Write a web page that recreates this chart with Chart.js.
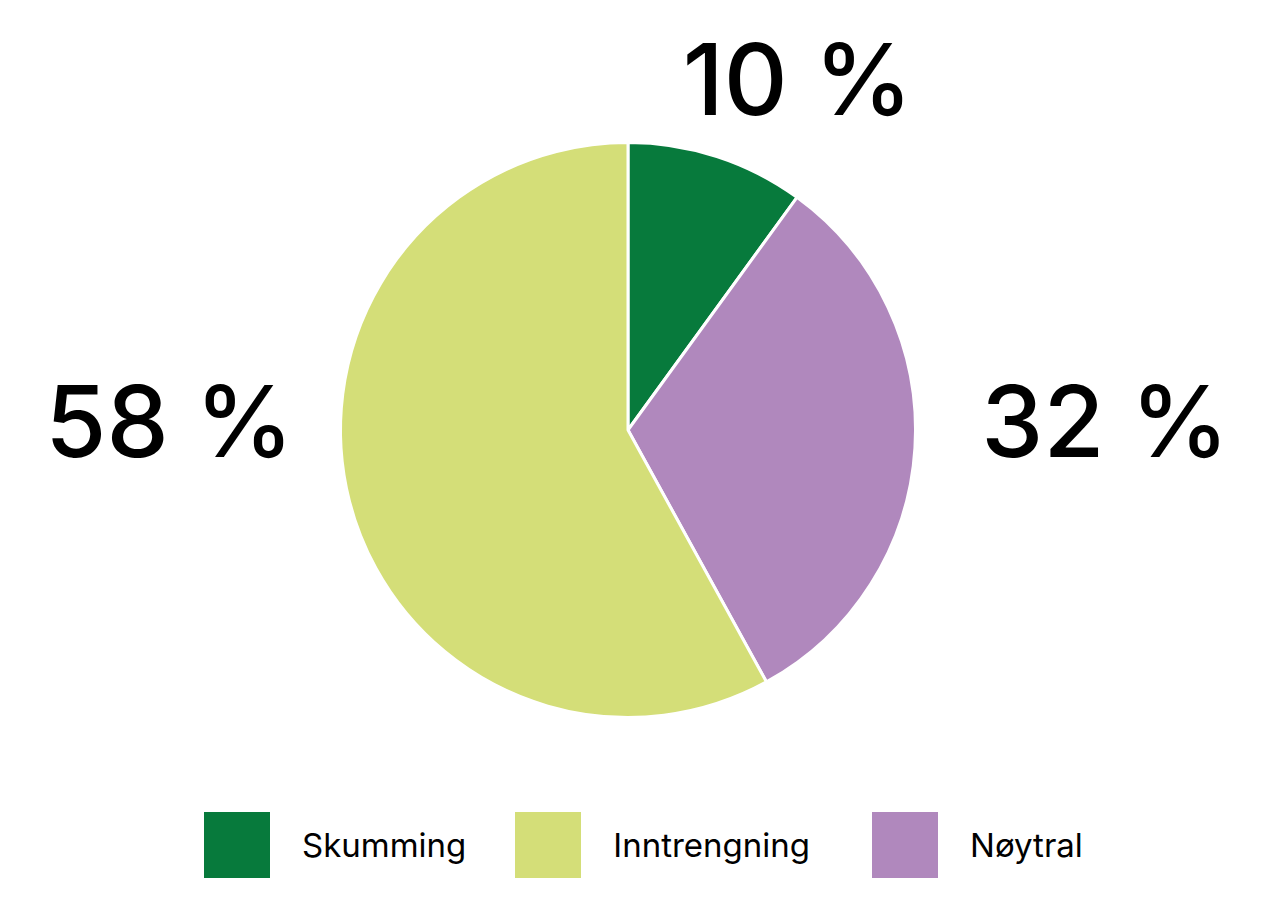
<!DOCTYPE html>
<html>
<head>
<meta charset="utf-8">
<script src="https://cdn.jsdelivr.net/npm/chart.js@4.4.0/dist/chart.umd.min.js"></script>
<style>
  html, body { margin: 0; padding: 0; background: #fff; }
  #wrap { position: relative; width: 1276px; height: 780px; }
  #legend { display: flex; justify-content: flex-start; margin-left: 204px; margin-top: 32px; font-family: Inter, sans-serif; font-size: 33px; color: #000; }
  .item { display: flex; align-items: center; margin-right: 49px; }
  .item:nth-child(2) { margin-right: 62px; }
  .box { width: 66px; height: 66px; margin-right: 32px; }
</style>
</head>
<body>
<div id="wrap"><canvas id="pieChart"></canvas></div>
<div id="legend"></div>
<script>
// Data for the chart (drawing order clockwise from top)
const categories = ["Skumming", "Nøytral", "Inntrengning"];
const shares = [10, 32, 58];
const colors = ["#077a3c", "#b088bd", "#d4de78"];
// Legend order as in the original
const legendOrder = ["Skumming", "Inntrengning", "Nøytral"];

// Where each percentage label sits, relative to pie centre, in radii
const labelOffsets = [[0.59, -1.2], [1.66, -0.01], [-1.595, -0.01]];

const percentLabels = {
  id: 'percentLabels',
  afterDatasetsDraw(chart) {
    const ctx = chart.ctx;
    const arcs = chart.getDatasetMeta(0).data;
    ctx.save();
    ctx.font = '500 99px Inter, sans-serif';
    ctx.fillStyle = '#000';
    ctx.textAlign = 'center';
    ctx.textBaseline = 'middle';
    arcs.forEach((arc, i) => {
      const r = arc.outerRadius;
      const x = arc.x + labelOffsets[i][0] * r;
      const y = arc.y + labelOffsets[i][1] * r;
      ctx.fillText(shares[i] + ' %', x, y);
    });
    ctx.restore();
  }
};

const config = {
  type: 'pie',
  data: {
    labels: categories,
    datasets: [{
      data: shares,
      backgroundColor: colors,
      borderColor: '#ffffff',
      borderWidth: 3
    }]
  },
  options: {
    responsive: true,
    maintainAspectRatio: false,
    animation: false,
    layout: { padding: { top: 141, bottom: 61, left: 0, right: 20 } },
    plugins: {
      legend: { display: false },
      tooltip: { enabled: false }
    }
  },
  plugins: [percentLabels]
};

const pieChart = new Chart(document.getElementById("pieChart"), config);

// HTML legend
const legend = document.getElementById("legend");
legendOrder.forEach(name => {
  const i = categories.indexOf(name);
  const item = document.createElement('div');
  item.className = 'item';
  item.innerHTML = '<div class="box" style="background:' + colors[i] + '"></div><span>' + name + '</span>';
  legend.appendChild(item);
});
</script>
</body>
</html>
